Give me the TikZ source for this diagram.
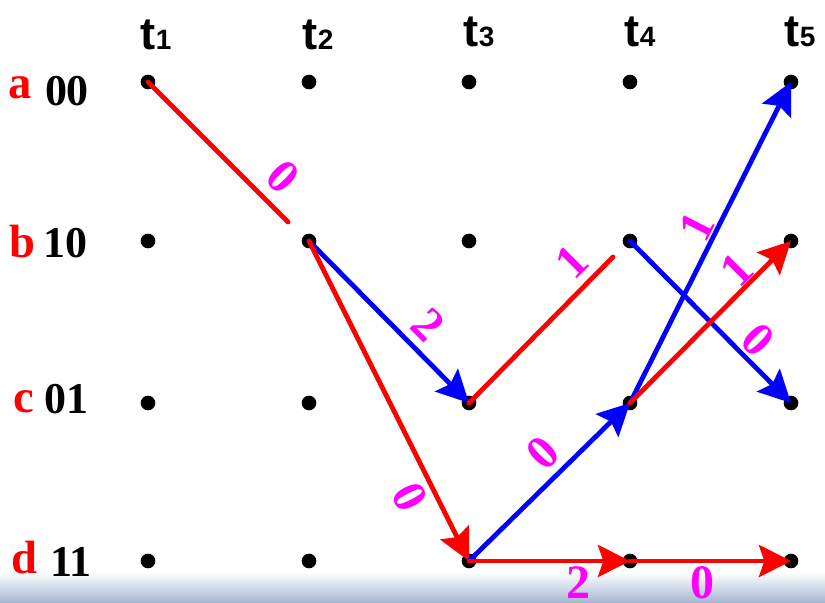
\documentclass[tikz,border=0pt]{standalone}
\usepackage{fontspec}
\setmainfont{Liberation Serif}
\newfontfamily\arialfont{Liberation Sans}
\usetikzlibrary{arrows.meta}
\definecolor{mag}{RGB}{255,0,255}
\definecolor{bandcol}{RGB}{165,182,210}
\begin{document}
\begin{tikzpicture}[x=0.75pt,y=-0.75pt,
  dot/.style={circle,fill=black,inner sep=0pt,minimum size=11pt},
  rl/.style={draw=red,line width=3.6pt,line cap=round},
  bl/.style={draw=blue,line width=3.6pt,line cap=round},
  tip/.style={-{Stealth[length=24pt,width=24pt,inset=4pt]}},
  lab/.style={text=mag,font=\fontsize{36}{36}\selectfont\bfseries,inner sep=0pt},
  rowl/.style={text=red,font=\fontsize{35}{35}\selectfont\bfseries,anchor=base,inner sep=0pt},
  rowc/.style={text=black,font=\fontsize{33}{33}\selectfont\bfseries,anchor=base,inner sep=0pt},
  tlab/.style={font=\arialfont\bfseries,anchor=base,inner sep=0pt}
]
\path[use as bounding box] (0,0) rectangle (825,603);
\fill[white] (0,0) rectangle (825,603);
\shade[top color=white,bottom color=bandcol] (0,572) rectangle (825,603);

% time labels
\foreach \x/\b/\n in {156/49/1,318/49/2,479/46/3,640/46/4,800/46/5}
  \node[tlab] (t\n) at (\x,\b) {{\fontsize{34}{34}\selectfont t}{\fontsize{21}{21}\selectfont \n}};

% row labels
\node[rowl] (la) at (20,98) {a};
\node[rowc] (ra) at (67,105) {00};
\node[rowl] (lb) at (22,257) {b};
\node[rowc] (rb) at (65,257) {10};
\node[rowl] (lc) at (24,412) {c};
\node[rowc] (rc) at (66,413) {01};
\node[rowl] (ld) at (24,573) {d};
\node[rowc] (rd) at (71,576) {11};

% dots
\foreach \r/\y in {a/82,b/241,c/403,d/561}
  \foreach \c/\x in {1/148,2/309,3/469,4/630,5/791}
    \node[dot] (\r\c) at (\x,\y) {};

\coordinate (aend) at (288,222);
\coordinate (cend) at (613,257);

% connectors
\draw[rl] (a1.center) -- (aend);
\draw[bl,tip] (b2.center) -- (c3.center);
\draw[rl,tip] (b2.center) -- (d3.center);
\draw[rl] (c3.center) -- (cend);
\draw[bl,tip] (d3.center) -- (c4.center);
\draw[rl,tip] (d3.center) -- (d4.center);
\draw[rl,tip] (d4.center) -- (d5.center);
\draw[bl,tip] (b4.center) -- (c5.center);
\draw[bl,tip] (c4.center) -- (a5.center);
\draw[rl,tip] (c4.center) -- (b5.center);

% branch labels
\node[lab,rotate=-45] (l1) at (283,177) {0};
\node[lab,rotate=-45] (l2) at (428,325) {2};
\node[lab,rotate=-63] (l3) at (410,497) {0};
\node[lab,rotate=45] (l4) at (543,453) {0};
\node[lab,rotate=45] (l5) at (572,262) {1};
\node[lab,rotate=63] (l6) at (697,227) {1};
\node[lab,rotate=45] (l7) at (737,270) {1};
\node[lab,rotate=-45] (l8) at (758,340) {0};
\node[lab] (l9) at (578,583) {2};
\node[lab] (l10) at (702,583) {0};
\end{tikzpicture}
\end{document}
